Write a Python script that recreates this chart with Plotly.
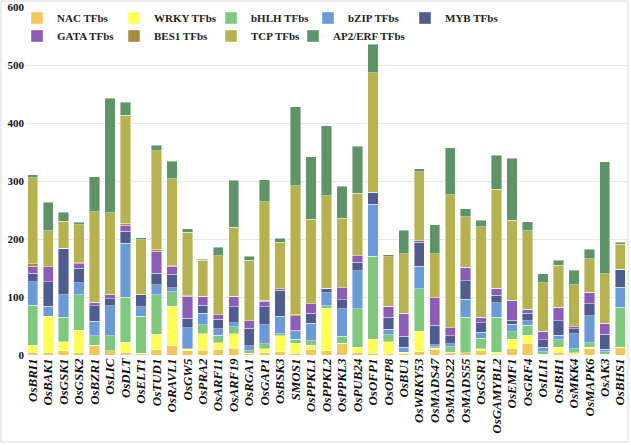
import plotly.graph_objects as go

genes = ["OsBRI1", "OsBAK1", "OsGSK1", "OsGSK2", "OsBZR1", "OsLIC", "OsDLT", "OsELT1", "OsTUD1",
         "OsRAVL1", "OsGW5", "OsPRA2", "OsARF11", "OsARF19", "OsRGA1", "OsGAP1", "OsBSK3", "SMOS1",
         "OsPPKL1", "OsPPKL2", "OsPPKL3", "OsPUB24", "OsOFP1", "OsOFP8", "OsBU1", "OsWRKY53",
         "OsMADS47", "OsMADS22", "OsMADS55", "OsGSR1", "OsGAMYBL2", "OsEMF1", "OsGRF4", "OsILI1",
         "OsIBH1", "OsMKK4", "OsMAPK6", "OsAK3", "OsBHS1"]

nac   = [5, 4, 7, 4, 17, 7, 5, 3, 9, 16, 7, 8, 10, 12, 2, 4, 6, 3, 10, 7, 20, 5, 3, 2, 2, 6,
         9, 5, 4, 7, 1, 11, 20, 1, 5, 1, 11, 1, 13]
wrky  = [12, 63, 16, 39, 0, 0, 17, 0, 27, 68, 3, 29, 11, 25, 1, 7, 27, 17, 7, 74, 0, 8, 24, 21, 3, 35,
         3, 0, 0, 4, 4, 16, 14, 0, 8, 3, 2, 0, 0]
bhlh  = [69, 0, 42, 61, 16, 26, 78, 64, 68, 25, 1, 15, 13, 12, 4, 8, 4, 7, 8, 4, 12, 67, 143, 12, 0, 73,
         2, 9, 61, 18, 60, 13, 17, 5, 13, 7, 8, 5, 69]
bzip  = [40, 17, 39, 21, 25, 52, 93, 16, 17, 7, 36, 20, 11, 7, 9, 33, 30, 13, 30, 22, 48, 65, 90, 9, 8, 39,
         4, 5, 31, 10, 25, 13, 8, 7, 8, 26, 47, 4, 35]
myb   = [15, 42, 79, 25, 27, 12, 20, 21, 20, 23, 16, 14, 17, 27, 30, 31, 45, 3, 17, 7, 15, 15, 20, 21, 19, 41,
         33, 14, 32, 17, 13, 7, 13, 13, 25, 8, 20, 26, 30]
gata  = [12, 26, 1, 7, 5, 7, 11, 0, 38, 14, 38, 15, 7, 18, 13, 10, 2, 25, 16, 1, 21, 11, 0, 19, 40, 3,
         48, 14, 23, 9, 12, 34, 7, 15, 23, 4, 20, 19, 1]
bes1  = [4, 0, 0, 2, 1, 1, 3, 1, 3, 1, 1, 0, 0, 0, 0, 1, 0, 1, 0, 0, 0, 0, 1, 0, 0, 0,
         0, 0, 0, 0, 0, 0, 0, 0, 0, 0, 0, 0, 0]
tcp   = [149, 62, 47, 66, 156, 140, 186, 94, 170, 150, 110, 62, 102, 119, 104, 170, 80, 223, 146, 160, 120,
         108, 206, 85, 103, 119, 76, 229, 87, 156, 171, 138, 135, 84, 73, 72, 58, 85, 43]
ap2   = [5, 49, 15, 4, 60, 198, 23, 3, 10, 30, 6, 2, 15, 81, 7, 38, 7, 136, 108, 120, 55, 81, 49, 4, 40, 5,
         50, 81, 14, 11, 58, 107, 16, 15, 8, 25, 16, 193, 3]

series_names = ["NAC TFbs", "WRKY TFbs", "bHLH TFbs", "bZIP TFbs", "MYB TFbs",
                "GATA TFbs", "BES1 TFbs", "TCP TFbs", "AP2/ERF TFbs"]
series_values = [nac, wrky, bhlh, bzip, myb, gata, bes1, tcp, ap2]
colors = ["#F4C75A", "#FFFF55", "#7FC97F", "#6A9BD8", "#4F5C90",
          "#8C5DB6", "#A38E3E", "#B6B24F", "#5F9468"]
legend_slots = ["legend"] * 5 + ["legend2"] * 3 + ["legend3"]

serif = "Times New Roman, Liberation Serif, serif"
tick_text = [f"<b><i>{g}</i></b>" for g in genes]

fig = go.Figure()
for name, vals, col, lg in zip(series_names, series_values, colors, legend_slots):
    fig.add_trace(go.Bar(
        x=genes, y=vals, name=f"<b>{name}</b>",
        marker=dict(color=col, line=dict(width=0.6, color="rgba(255,255,255,0.7)")),
        legend=lg,
    ))

W, H = 631, 445
ml, mr, mt, mb = 25, 3, 7, 90
pw, ph = W - ml - mr, H - mt - mb

def px_x(px):
    return (px - ml) / pw

def px_y(py):
    return (H - mb - py) / ph

legend_common = dict(
    orientation="h", xanchor="left", yanchor="middle", xref="container",
    entrywidthmode="pixels",
    font=dict(family=serif, size=11, color="#222"),
    bgcolor="rgba(0,0,0,0)", borderwidth=0,
    traceorder="normal",
)

col_step = 92
x0 = 17

fig.update_layout(
    width=W, height=H,
    margin=dict(l=ml, r=mr, t=mt, b=mb, autoexpand=False),
    barmode="stack", bargap=0.33,
    plot_bgcolor="white", paper_bgcolor="white",
    legend=dict(x=x0 / W, y=px_y(18), entrywidth=col_step - 40, **legend_common),
    legend2=dict(x=x0 / W, y=px_y(36), entrywidth=col_step - 40, **legend_common),
    legend3=dict(x=(x0 + 3 * col_step) / W, y=px_y(36), entrywidth=100, **legend_common),
    xaxis=dict(
        tickmode="array", tickvals=genes, ticktext=tick_text, tickangle=-90,
        tickfont=dict(family=serif, size=13, color="#111"),
        showgrid=False, showline=False, ticks="",
    ),
    yaxis=dict(
        range=[0, 600], tickvals=[0, 100, 200, 300, 400, 500, 600],
        ticktext=[f"<b>{v}</b>" for v in [0, 100, 200, 300, 400, 500, 600]],
        tickfont=dict(family=serif, size=11, color="#111"),
        showgrid=True, gridcolor="#E9E9E9", gridwidth=1,
        zeroline=False, showline=False, ticks="",
    ),
    shapes=[dict(type="rect", xref="paper", yref="paper",
                 x0=px_x(1), x1=px_x(628), y0=px_y(442), y1=px_y(1),
                 line=dict(color="#DADADA", width=1), fillcolor="rgba(0,0,0,0)", layer="below")],
)

fig.write_html("out.html",
               config={"displayModeBar": False},
               post_script="document.body.style.margin='0';document.body.style.overflow='hidden';")
